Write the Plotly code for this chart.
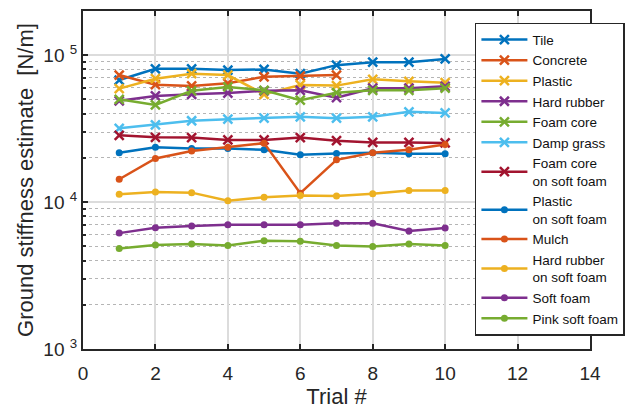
import plotly.graph_objects as go

trials = [1, 2, 3, 4, 5, 6, 7, 8, 9, 10]

tile = [67800, 80800, 80800, 79200, 80000, 74800, 85600, 89700, 89700, 94400]
concrete = [73300, 63000, 61800, 64400, 71300, 72100, 73300]
plastic = [59200, 69200, 74800, 73300, 54200, 62700, 62100, 68500, 66400, 65000]
hard_rubber = [48900, 52800, 54200, 55300, 57200, 57700, 51400, 59600, 59600, 61400]
foam_core = [50100, 45900, 57200, 60800, 57700, 49400, 55600, 57700, 57700, 59600]
damp_grass = [31800, 33600, 35800, 36700, 37300, 38100, 37300, 38100, 41200, 40500]
foam_core_soft = [28500, 27600, 27500, 26500, 26500, 27500, 26200, 25500, 25500, 25300]
plastic_soft = [21700, 23600, 23200, 23200, 22700, 21000, 21400, 21700, 21300, 21300]
mulch = [14300, 19800, 22300, 23600, 25200, 11500, 19400, 21700, 22700, 24700]
hard_rubber_soft = [11300, 11700, 11600, 10200, 10800, 11100, 11000, 11400, 12000, 12000]
soft_foam = [6150, 6700, 6880, 7000, 7000, 7000, 7180, 7180, 6370, 6670]
pink_soft_foam = [4840, 5100, 5180, 5070, 5450, 5420, 5070, 4990, 5180, 5070]

series = [
    ("Tile", tile, "#0072BD", "x"),
    ("Concrete", concrete, "#D95319", "x"),
    ("Plastic", plastic, "#EDB120", "x"),
    ("Hard rubber", hard_rubber, "#7E2F8E", "x"),
    ("Foam core", foam_core, "#77AC30", "x"),
    ("Damp grass", damp_grass, "#4DBEEE", "x"),
    ("Foam core<br>on soft foam", foam_core_soft, "#A2142F", "x"),
    ("Plastic<br>on soft foam", plastic_soft, "#0072BD", "o"),
    ("Mulch", mulch, "#D95319", "o"),
    ("Hard rubber<br>on soft foam", hard_rubber_soft, "#EDB120", "o"),
    ("Soft foam", soft_foam, "#7E2F8E", "o"),
    ("Pink soft foam", pink_soft_foam, "#77AC30", "o"),
]

ytick_vals = [1e3, 1e4, 1e5]
ytick_text = ["10 <sup>3</sup>", "10 <sup>4</sup>", "10 <sup>5</sup>"]

fig = go.Figure()
for name, vals, color, mk in series:
    if mk == "x":
        marker = dict(symbol="x-thin", size=9, color=color,
                      line=dict(width=2.5, color=color))
    else:
        marker = dict(symbol="circle", size=7, color=color)
    fig.add_trace(go.Scatter(
        x=trials[:len(vals)], y=vals, mode="lines+markers", name=name,
        line=dict(color=color, width=2.5), marker=marker,
    ))

axcol = "#262626"
fig.update_layout(
    width=637, height=414,
    margin=dict(l=83, r=47, t=9, b=63),
    paper_bgcolor="white", plot_bgcolor="white",
    font=dict(family="Liberation Sans, Arial, sans-serif", color=axcol, size=16),
    showlegend=True,
    legend=dict(
        x=0.773, y=0.965, xanchor="left", yanchor="top",
        bgcolor="white", bordercolor=axcol, borderwidth=1.5,
        font=dict(size=13.5, color="#111"),
        tracegroupgap=0, itemwidth=46,
    ),
    xaxis=dict(
        range=[0, 14], tickvals=[0, 2, 4, 6, 8, 10, 12, 14],
        showgrid=True, gridcolor="#dcdcdc", gridwidth=1.5,
        showline=True, linecolor=axcol, linewidth=2, mirror="allticks",
        ticks="inside", ticklen=5, tickwidth=2, tickcolor=axcol,
        zeroline=False, ticklabelstandoff=6,
        title=dict(text="Trial #", font=dict(size=22), standoff=6),
        tickfont=dict(size=19),
    ),
    yaxis=dict(
        type="log", range=[3, 5.301],
        tickvals=ytick_vals, ticktext=ytick_text,
        showgrid=True, gridcolor="#dcdcdc", gridwidth=1.5,
        showline=True, linecolor=axcol, linewidth=2, mirror="allticks",
        ticks="inside", ticklen=5, tickwidth=2, tickcolor=axcol,
        zeroline=False,
        minor=dict(dtick="D1", showgrid=True, griddash="dot", gridcolor="#b5b5b5",
                   gridwidth=1.2, ticks="inside", ticklen=3, tickcolor=axcol),
        title=dict(text="Ground stiffness estimate &nbsp;[N/m]", font=dict(size=22), standoff=4),
        tickfont=dict(size=19),
    ),
)

fig.write_html("out.html")
